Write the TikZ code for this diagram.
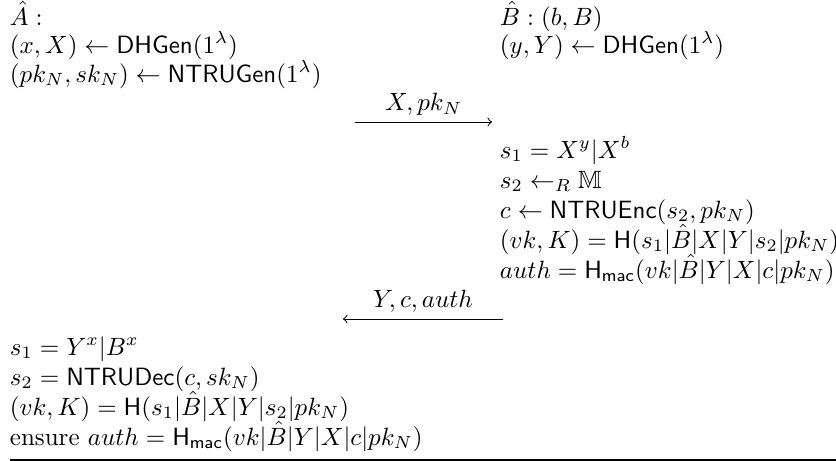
\documentclass[tikz,border=0pt]{standalone}
\usepackage{amsmath}
\usepackage{amssymb}
\usepackage{tikz}
\newcommand{\Hmac}{\mathsf{H}_{\mathsf{mac}}}
\tikzset{
  row/.style={anchor=base west,inner sep=0pt,outer sep=0pt},
  msg/.style={midway,above,inner sep=2.5pt},
}

\begin{document}
\begin{tikzpicture}[x=0.4pt,y=-0.4pt]
\useasboundingbox (0,0) rectangle (836,461);
\node[row] (a0) at (10,25) {$\hat{A}:$};
\node[row] (a1) at (10,53) {$(x,X)\leftarrow\mathsf{DHGen}(1^\lambda)$};
\node[row] (a2) at (10,82) {$(pk_N,sk_N)\leftarrow\mathsf{NTRUGen}(1^\lambda)$};
\node[row] (b0) at (500,25) {$\hat{B}:(b,B)$};
\node[row] (b1) at (500,53) {$(y,Y)\leftarrow\mathsf{DHGen}(1^\lambda)$};
\coordinate (m1l) at (355,122);
\coordinate (m1r) at (492,122);
\draw[->] (m1l) -- node[msg] (m1) {$X,pk_N$} (m1r);
\foreach \txt [count=\k from 0] in {
    {$s_1=X^y|X^b$},
    {$s_2\leftarrow_R\mathbb{M}$},
    {$c\leftarrow\mathsf{NTRUEnc}(s_2,pk_N)$},
    {$(vk,K)=\mathsf{H}(s_1|\hat{B}|X|Y|s_2|pk_N)$},
    {$auth=\Hmac(vk|\hat{B}|Y|X|c|pk_N)$}}
  \node[row] (bs\k) at (500,158+30*\k) {\txt};
\coordinate (m2r) at (503,319);
\coordinate (m2l) at (343,319);
\draw[->] (m2r) -- node[msg] (m2) {$Y,c,auth$} (m2l);
\foreach \txt [count=\k from 0] in {
    {$s_1=Y^x|B^x$},
    {$s_2=\mathsf{NTRUDec}(c,sk_N)$},
    {$(vk,K)=\mathsf{H}(s_1|\hat{B}|X|Y|s_2|pk_N)$},
    {ensure $auth=\Hmac(vk|\hat{B}|Y|X|c|pk_N)$}}
  \node[row] (as\k) at (10,355+30*\k) {\txt};
\coordinate (rl) at (10,460);
\coordinate (rr) at (836,460);
\draw[line width=0.8pt] (rl) -- (rr);
\end{tikzpicture}
\end{document}
